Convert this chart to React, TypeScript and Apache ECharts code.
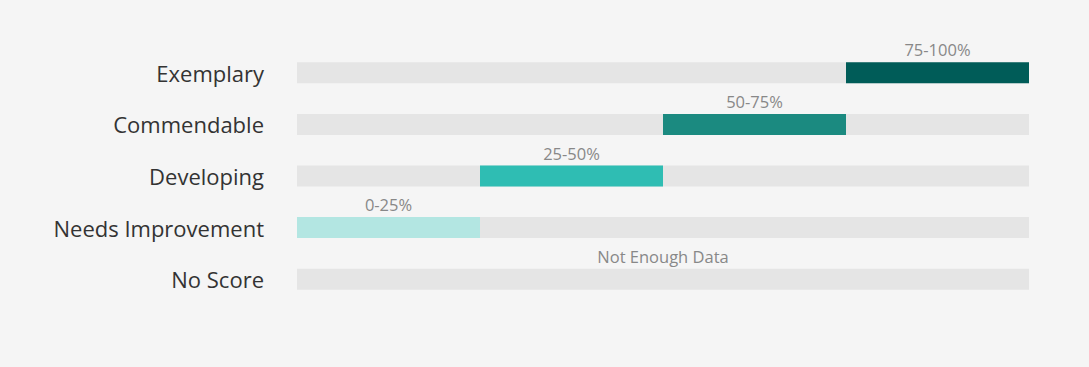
import React, { useEffect, useRef } from "react";
import * as echarts from "echarts";

const categories = ["Exemplary", "Commendable", "Developing", "Needs Improvement", "No Score"];
const rangeStart = [75, 50, 25, 0, 0];
const rangeLength = [25, 25, 25, 25, 0];
const rangeLabels = ["75-100%", "50-75%", "25-50%", "0-25%", ""];
const rangeColors = ["#005c58", "#1b8a80", "#2fbdb3", "#b3e6e2", "#e5e5e5"];
const trackValues = [100, 100, 100, 100, 100];
const noDataLabel = "Not Enough Data";

export default function App() {
  const ref = useRef<HTMLDivElement>(null);
  useEffect(() => {
    document.body.style.margin = "0";
    const chart = echarts.init(ref.current!, undefined, { renderer: "svg" });
    const font = "'Open Sans', 'Noto Sans', sans-serif";
    chart.setOption({
      animation: false,
      backgroundColor: "#f5f5f5",
      textStyle: { fontFamily: font },
      grid: { left: 297, right: 60, top: 47, bottom: 62 },
      xAxis: { type: "value", min: 0, max: 100, show: false },
      yAxis: {
        type: "category",
        data: categories,
        inverse: true,
        axisLine: { show: false },
        axisTick: { show: false },
        splitLine: { show: false },
        axisLabel: { color: "#333333", fontSize: 22, margin: 33, fontFamily: font },
      },
      series: [
        {
          type: "bar",
          barWidth: 21,
          barGap: "-100%",
          silent: true,
          itemStyle: { color: "#e5e5e5" },
          data: trackValues.map((v, i) =>
            rangeLength[i] === 0
              ? {
                  value: v,
                  label: {
                    show: true,
                    position: "top",
                    formatter: noDataLabel,
                    color: "#888888",
                    fontSize: 16.5,
                    distance: 4,
                    fontFamily: font,
                  },
                }
              : v
          ),
        },
        {
          type: "bar",
          stack: "r",
          barWidth: 21,
          barGap: "-100%",
          silent: true,
          itemStyle: { color: "transparent" },
          data: rangeStart,
        },
        {
          type: "bar",
          stack: "r",
          barWidth: 21,
          barGap: "-100%",
          silent: true,
          data: rangeLength.map((v, i) => ({
            value: v,
            itemStyle: { color: rangeColors[i] },
            label: {
              show: v > 0,
              position: "top",
              formatter: rangeLabels[i],
              color: "#888888",
              fontSize: 16.5,
              distance: 4,
              fontFamily: font,
            },
          })),
        },
      ],
    });
    return () => chart.dispose();
  }, []);
  return <div ref={ref} style={{ width: 1089, height: 367 }} />;
}
